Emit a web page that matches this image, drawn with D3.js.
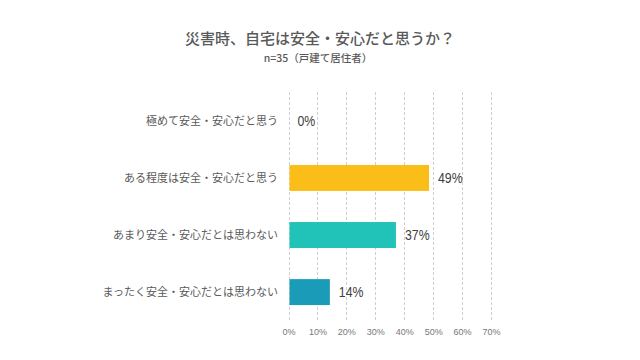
<!DOCTYPE html>
<html><head><meta charset="utf-8">
<script src="https://cdn.jsdelivr.net/npm/d3@7"></script>
<style>body{margin:0;background:#fff}svg{display:block}</style>
</head><body>
<svg id="c" width="640" height="360"></svg>
<script>
const categories = ["極めて安全・安心だと思う","ある程度は安全・安心だと思う","あまり安全・安心だとは思わない","まったく安全・安心だとは思わない"];
const values = [0, 48.57, 37.14, 14.29];
const valueLabels = ["0%","49%","37%","14%"];
const colors = ["#FBBE18","#FBBE18","#21C2B7","#1A9BB7"];
const ticks = [0,10,20,30,40,50,60,70];
const title = "災害時、自宅は安全・安心だと思うか？";
const subtitle = "n=35（戸建て居住者）";

const svg = d3.select("#c");
const jp = "'Noto Sans CJK JP', sans-serif";
const narrow = "'Liberation Sans Narrow', 'Arial Narrow', 'Liberation Sans', sans-serif";
const x = d3.scaleLinear().domain([0,70]).range([288.5,491]);
const y = d3.scaleBand().domain(categories).range([92.5,320.5]).paddingInner(0.545).paddingOuter(0.27);

svg.append("text").attr("x",320).attr("y",44).attr("text-anchor","middle")
  .attr("font-family",jp).attr("font-size",15).attr("font-weight",500).attr("fill","#595959").text(title);
svg.append("text").attr("x",318).attr("y",62).attr("text-anchor","middle")
  .attr("font-family",jp).attr("font-size",10.5).attr("font-weight",500).attr("fill","#595959").text(subtitle);

const g = svg.append("g");
g.selectAll("line.grid").data(ticks).join("line").attr("class","grid")
  .attr("x1",d=>Math.round(x(d))+0.5).attr("x2",d=>Math.round(x(d))+0.5)
  .attr("y1",92).attr("y2",321)
  .attr("stroke","#cfcfcf").attr("stroke-width",1).attr("stroke-dasharray","3,2");

const ax = d3.axisBottom(x).tickValues(ticks).tickFormat(d=>d+"%").tickSize(0);
const axg = svg.append("g").attr("transform","translate(0,326)").call(ax);
axg.select(".domain").remove();
axg.selectAll("text").attr("font-family",narrow).attr("font-size",9).attr("fill","#777");

g.selectAll("rect.bar").data(values).join("rect").attr("class","bar")
  .attr("x",x(0)+1).attr("y",(d,i)=>y(categories[i]))
  .attr("width",d=>Math.max(0,x(d)-x(0)-1)).attr("height",y.bandwidth())
  .attr("fill",(d,i)=>colors[i]);

g.selectAll("text.val").data(values).join("text").attr("class","val")
  .attr("transform",(d,i)=>`translate(${x(d)+9},${y(categories[i])+y.bandwidth()/2}) scale(0.88,1)`)
  .attr("dy","0.35em").attr("font-family",narrow).attr("font-size",14).attr("fill","#404040")
  .text((d,i)=>valueLabels[i]);

g.selectAll("text.cat").data(categories).join("text").attr("class","cat")
  .attr("x",278).attr("y",d=>y(d)+y.bandwidth()/2).attr("dy","0.35em")
  .attr("text-anchor","end").attr("font-family",jp).attr("font-size",11).attr("fill","#595959")
  .text(d=>d);
</script>
</body></html>
